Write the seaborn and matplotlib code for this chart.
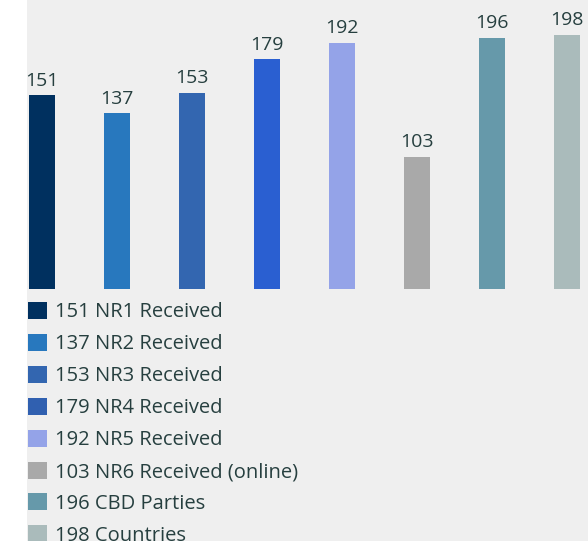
import matplotlib
matplotlib.use("Agg")
import matplotlib.pyplot as plt
import seaborn as sns
import pandas as pd
from matplotlib.patches import Patch

# data
categories = ["NR1 Received", "NR2 Received", "NR3 Received", "NR4 Received",
              "NR5 Received", "NR6 Received (online)", "CBD Parties", "Countries"]
values = [151, 137, 153, 179, 192, 103, 196, 198]
bar_colors = ["#00305f", "#2878be", "#3366b0", "#2a5fd1",
              "#94a3e8", "#a9a9a9", "#6699aa", "#aabbbb"]
legend_colors = ["#00305f", "#2878be", "#3366b0", "#3060b0",
                 "#94a3e8", "#a9a9a9", "#6699aa", "#aabbbb"]

df = pd.DataFrame({"category": categories, "value": values})

sns.set_theme(style="white")
plt.rcParams["font.family"] = ["Open Sans", "DejaVu Sans"]
text_color = "#263f3f"

fig = plt.figure(figsize=(5.88, 5.41), dpi=100)
fig.patch.set_facecolor("white")

# gray panel behind chart and legend
bg = fig.add_axes([27 / 588, 0, 1 - 27 / 588, 1])
bg.set_facecolor("#efefef")
bg.set_xticks([])
bg.set_yticks([])
for s in bg.spines.values():
    s.set_visible(False)

ax = fig.add_axes([27 / 588, (541 - 289) / 541, 1 - 27 / 588, 289 / 541])
ax.patch.set_alpha(0)
sns.barplot(data=df, x="category", y="value", hue="category",
            palette=bar_colors, legend=False, width=0.34, saturation=1,
            linewidth=0, edgecolor="none", ax=ax)
ax.set_xlim(-0.2, 7.28)
ax.set_ylim(0, 225.3)
for c in ax.containers:
    ax.bar_label(c, padding=4, fontsize=14, color=text_color)
ax.set_xticks([])
ax.set_yticks([])
ax.set_xlabel("")
ax.set_ylabel("")
for s in ax.spines.values():
    s.set_visible(False)

handles = [Patch(facecolor=col, edgecolor="none") for col in legend_colors]
labels = [f"{v} {c}" for v, c in zip(values, categories)]
leg = fig.legend(handles, labels, loc="upper left",
                 bbox_to_anchor=(20 / 588, (541 - 294) / 541),
                 frameon=False, fontsize=14.5, handlelength=0.92, handleheight=0.92,
                 handletextpad=0.4, labelspacing=0.57, borderaxespad=0)
for t in leg.get_texts():
    t.set_color(text_color)

fig.savefig("out.png", dpi=100)
